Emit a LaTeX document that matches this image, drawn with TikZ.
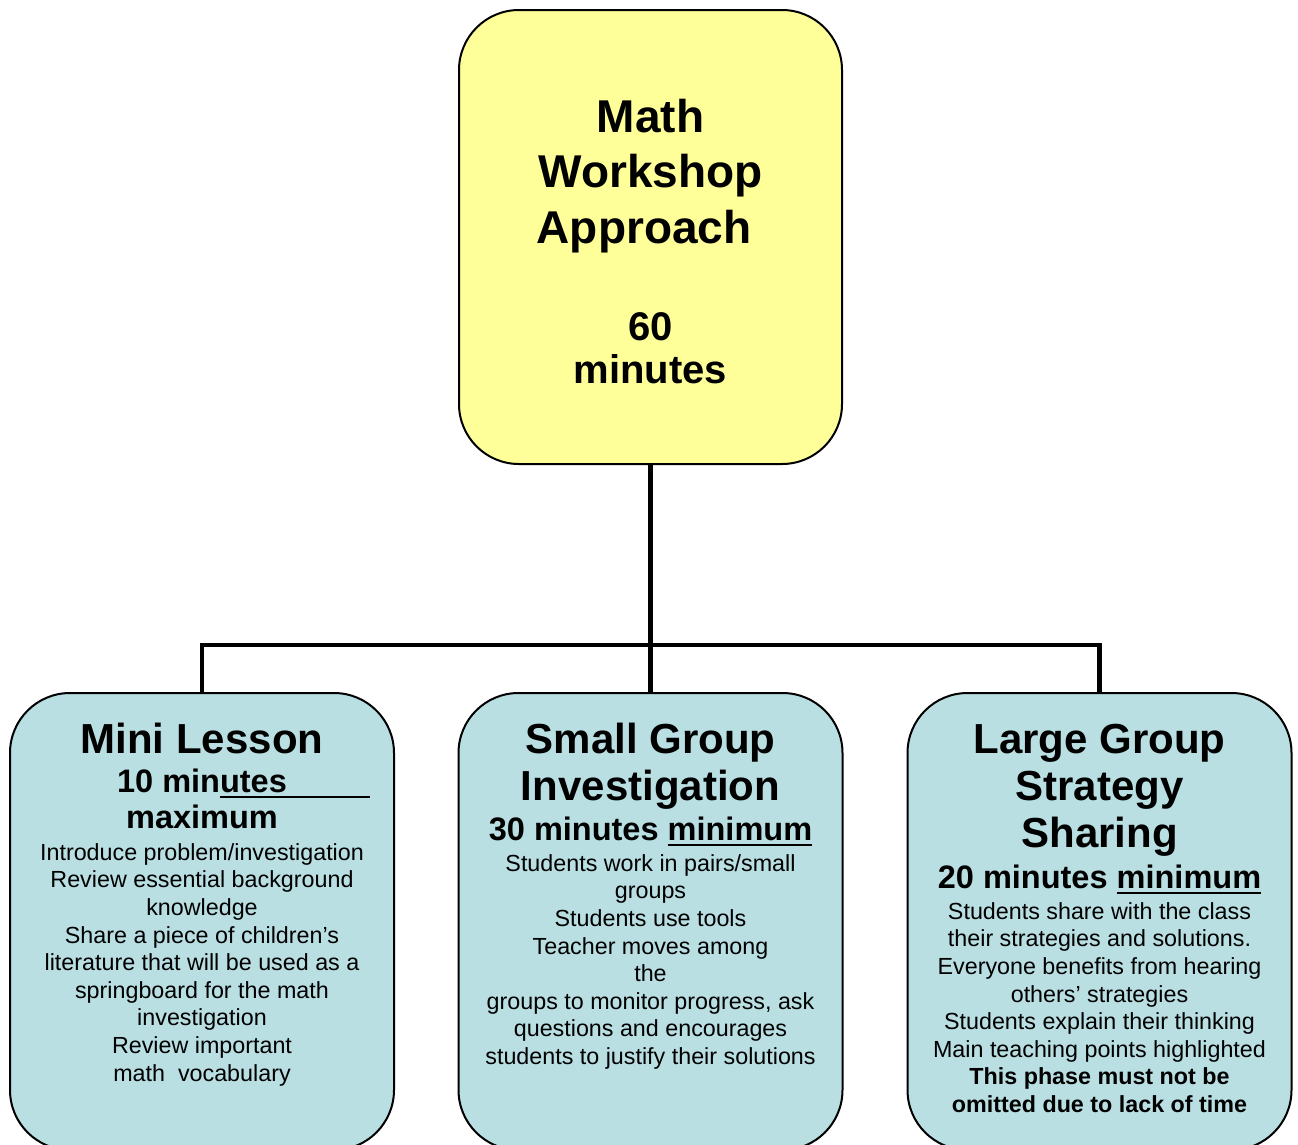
\documentclass[tikz,border=0pt]{standalone}
\usepackage{fontspec}
\setmainfont{Liberation Sans}
\definecolor{topyellow}{RGB}{255,255,153}
\definecolor{boxblue}{RGB}{185,223,227}
\newcommand\fl{\rule{0pt}{0.8em}}
\newcommand\myul[1]{\setbox0\hbox{#1}\rlap{\rule[-6pt]{\wd0}{2.5pt}}\box0}
\tikzset{
  box/.style={draw=black, line width=2pt, rounded corners=60pt, inner sep=0pt,
    minimum width=384pt, minimum height=457pt, fill=boxblue},
  conn/.style={draw=black, line width=4.5pt},
  txt/.style={anchor=north, inner sep=0pt, align=center},
  titletxt/.style={txt, font=\fontsize{46}{55.5}\selectfont\bfseries},
  durtxt/.style={txt, font=\fontsize{40}{43}\selectfont\bfseries},
  headtxt/.style={txt, font=\fontsize{42}{47.3}\selectfont\bfseries},
  timetxt/.style={txt, font=\fontsize{32.5}{36}\selectfont\bfseries},
  bodytxt/.style={txt, font=\fontsize{23.3}{27.6}\selectfont},
}
\begin{document}
\begin{tikzpicture}[x=1pt,y=-1pt]
\useasboundingbox (0,0) rectangle (1298,1144);
\clip (0,0) rectangle (1298,1144);
% boxes
\node[box, fill=topyellow, minimum width=383pt, minimum height=454pt] (top) at (650.5,237) {};
\node[box] (mini) at (202,921.5) {};
\node[box] (small) at (650.5,921.5) {};
\node[box] (large) at (1099.5,921.5) {};
% connectors
\coordinate (bus) at (650.5,645);
\draw[conn] (top.south) -- (small.north);
\draw[conn] (mini.north) |- (bus) -| (large.north);
% top text
\node[titletxt] (ttl) at (650.5,95.2) {\fl Math\\Workshop\\Approach\kern12.8pt};
\node[durtxt] (dur) at (650.5,308) {\fl 60\\minutes};
% mini lesson
\node[headtxt] (h1) at (202,719.4) {\fl Mini Lesson};
\node[timetxt] (t1) at (202,766) {\fl 10 min\rlap{\rule[-6pt]{150pt}{2.5pt}}utes\\maximum};
\node[bodytxt] (b1) at (202,841.4) {\fl Introduce problem/investigation\\
Review essential background\\
knowledge\\
Share a piece of children’s\\
literature that will be used as a\\
springboard for the math\\
investigation\\
Review important\\
math~~vocabulary};
% small group
\node[headtxt] (h2) at (650.5,719.4) {\fl Small Group\\Investigation};
\node[timetxt] (t2) at (650.5,814) {\fl 30 minutes \myul{minimum}};
\node[bodytxt] (b2) at (650.5,852.4) {\fl Students work in pairs/small\\
groups\\
Students use tools\\
Teacher moves among\\
the\\
groups to monitor progress, ask\\
questions and encourages\\
students to justify their solutions};
% large group
\node[headtxt] (h3) at (1099.5,719.4) {\fl Large Group\\Strategy\\Sharing};
\node[timetxt] (t3) at (1099.5,862) {\fl 20 minutes \myul{minimum}};
\node[bodytxt] (b3) at (1099.5,900.4) {\fl Students share with the class\\
their strategies and solutions.\\
Everyone benefits from hearing\\
others’ strategies\\
Students explain their thinking\\
Main teaching points highlighted\\
\textbf{This phase must not be}\\
\textbf{omitted due to lack of time}};
\end{tikzpicture}
\end{document}
